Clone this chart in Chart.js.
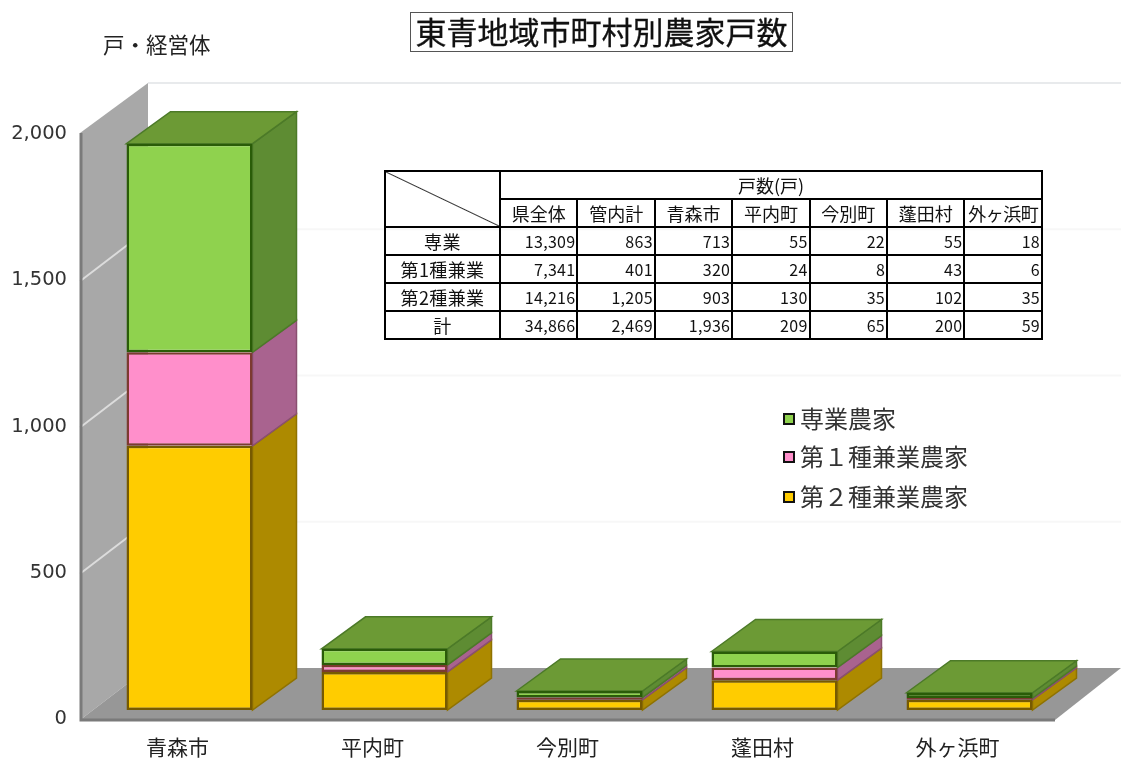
<!DOCTYPE html>
<html lang="ja">
<head>
<meta charset="utf-8">
<title>東青地域市町村別農家戸数</title>
<script src="https://cdn.jsdelivr.net/npm/chart.js@4"></script>
<style>
  html, body { margin: 0; padding: 0; background: #fff; }
  body { position: relative; width: 1121px; height: 758px; overflow: hidden; font-family: "Noto Sans CJK JP", sans-serif; color: #222; }
  #chart { position: absolute; left: 0; top: 0; }
  #title { position: absolute; left: 410px; top: 12px; width: 381px; height: 38px; border: 1px solid #555; background: #fff; text-align: center; font-size: 31px; line-height: 35px; white-space: nowrap; color: #111; -webkit-text-stroke: 0.3px #111; }
  #unit { position: absolute; left: 103px; top: 29px; font-size: 21.5px; line-height: 30px; color: #222; }
  #legend { position: absolute; left: 783px; top: 399px; }
  .legend-row { position: absolute; left: 0; height: 38px; width: 200px; white-space: nowrap; font-size: 24px; line-height: 38px; color: #333; }
  .legend-row i { position: absolute; left: 0; top: 14px; width: 8px; height: 8px; border: 2px solid #111; }
  .legend-row span { position: absolute; left: 17px; top: 0; }
  #summary { position: absolute; left: 384px; top: 170px; width: 659px; height: 169px; border-collapse: collapse; table-layout: fixed; background: transparent; font-size: 16px; color: #111; }
  #summary td, #summary th { border: 2px solid #000; padding: 0 1px; font-weight: 400; line-height: 1; overflow: hidden; white-space: nowrap; }
  #summary td { text-align: right; letter-spacing: 0.3px; }
  #summary th.row-head { font-size: 18px; letter-spacing: 0.4px; }
  #summary th.col-head { font-size: 18px; }
  #summary th.wide-head { letter-spacing: -0.5px; }
  #summary th.corner { background: linear-gradient(to top right, transparent calc(50% - 1px), #333 50%, transparent calc(50% + 1px)); }
</style>
</head>
<body>
<canvas id="chart" width="1121" height="758"></canvas>
<div id="title">東青地域市町村別農家戸数</div>
<div id="unit">戸・経営体</div>
<table id="summary"></table>
<div id="legend"></div>
<script>
  const categories = ["青森市", "平内町", "今別町", "蓬田村", "外ヶ浜町"];
  const senkyo = [713, 55, 22, 55, 18];
  const kengyo1 = [320, 24, 8, 43, 6];
  const kengyo2 = [903, 130, 35, 102, 35];
  const yTicks = [0, 500, 1000, 1500, 2000];

  const legendNames = ["専業農家", "第１種兼業農家", "第２種兼業農家"];

  const tableHeader = "戸数(戸)";
  const tableColumns = ["県全体", "管内計", "青森市", "平内町", "今別町", "蓬田村", "外ヶ浜町"];
  const tableRowNames = ["専業", "第1種兼業", "第2種兼業", "計"];
  const rowSenkyo = ["13,309", "863", "713", "55", "22", "55", "18"];
  const rowKengyo1 = ["7,341", "401", "320", "24", "8", "43", "6"];
  const rowKengyo2 = ["14,216", "1,205", "903", "130", "35", "102", "35"];
  const rowTotal = ["34,866", "2,469", "1,936", "209", "65", "200", "59"];

  const GREEN = { front: "#8fd24e", side: "#5e8c33", top: "#6c9a35", line: "#2a5c08", sideLine: "#4c7a28" };
  const PINK = { front: "#ff8fcb", side: "#a9638f", line: "#7c3a30", sideLine: "#8a4f70" };
  const YELLOW = { front: "#ffcc00", side: "#ad8a00", line: "#775a00", sideLine: "#8f7200" };

  // bars stand a little behind the front edge of the floor
  const BAR_DEPTH = { x: 44, y: -32 };
  const FLOOR_SHIFT = { x: -12, y: 10 };
  const WALL_DEPTH = { x: 68, y: -52 };

  const roomPlugin = {
    id: "room",
    beforeDraw(chart) {
      const ctx = chart.ctx;
      const yScale = chart.scales.y;
      const front = (v) => yScale.getPixelForValue(v) + FLOOR_SHIFT.y;
      const left = chart.chartArea.left + FLOOR_SHIFT.x;
      const right = chart.chartArea.right + FLOOR_SHIFT.x;
      const top = front(2000) - 2;
      const floor = front(0);

      ctx.save();
      ctx.fillStyle = "#fff";
      ctx.fillRect(0, 0, chart.width, chart.height);

      // back wall
      ctx.strokeStyle = "#f7f7f7";
      ctx.lineWidth = 2;
      yTicks.slice(1, -1).forEach((v) => {
        ctx.beginPath();
        ctx.moveTo(left + WALL_DEPTH.x, front(v) + WALL_DEPTH.y);
        ctx.lineTo(right + WALL_DEPTH.x, front(v) + WALL_DEPTH.y);
        ctx.stroke();
      });
      ctx.strokeStyle = "#e8eaec";
      ctx.beginPath();
      ctx.moveTo(left + WALL_DEPTH.x, top + WALL_DEPTH.y + 2);
      ctx.lineTo(right + WALL_DEPTH.x, top + WALL_DEPTH.y + 2);
      ctx.lineTo(right + WALL_DEPTH.x, floor + WALL_DEPTH.y);
      ctx.stroke();

      // left wall
      ctx.fillStyle = "#a8a8a8";
      ctx.beginPath();
      ctx.moveTo(left, top);
      ctx.lineTo(left + WALL_DEPTH.x, top + WALL_DEPTH.y + 2);
      ctx.lineTo(left + WALL_DEPTH.x, floor + WALL_DEPTH.y);
      ctx.lineTo(left, floor);
      ctx.closePath();
      ctx.fill();
      ctx.strokeStyle = "#dcdcdc";
      ctx.lineWidth = 2;
      yTicks.slice(1, -1).forEach((v) => {
        ctx.beginPath();
        ctx.moveTo(left, front(v));
        ctx.lineTo(left + WALL_DEPTH.x, front(v) + WALL_DEPTH.y);
        ctx.stroke();
      });

      // floor
      ctx.fillStyle = "#979797";
      ctx.beginPath();
      ctx.moveTo(left, floor);
      ctx.lineTo(left + WALL_DEPTH.x, floor + WALL_DEPTH.y);
      ctx.lineTo(right + WALL_DEPTH.x - 2, floor + WALL_DEPTH.y);
      ctx.lineTo(right, floor);
      ctx.closePath();
      ctx.fill();

      // darker edges at the front
      ctx.strokeStyle = "#7a7a7a";
      ctx.lineWidth = 3;
      ctx.beginPath();
      ctx.moveTo(left + 1, top);
      ctx.lineTo(left + 1, floor);
      ctx.lineTo(right, floor);
      ctx.stroke();
      ctx.restore();
    },
    beforeDatasetsDraw(chart) {
      const ctx = chart.ctx;
      ctx.save();
      ctx.lineWidth = 1.5;
      chart.data.datasets.forEach((ds, i) => {
        chart.getDatasetMeta(i).data.forEach((bar) => {
          const xr = bar.x + bar.width / 2;
          ctx.fillStyle = ds.sideColor;
          ctx.strokeStyle = ds.sideLine;
          ctx.beginPath();
          ctx.moveTo(xr, bar.y);
          ctx.lineTo(xr + BAR_DEPTH.x, bar.y + BAR_DEPTH.y);
          ctx.lineTo(xr + BAR_DEPTH.x, bar.base + BAR_DEPTH.y);
          ctx.lineTo(xr, bar.base);
          ctx.closePath();
          ctx.fill();
          ctx.stroke();
        });
      });

      // top face of each stack
      const last = chart.data.datasets.length - 1;
      chart.getDatasetMeta(last).data.forEach((bar) => {
        const xl = bar.x - bar.width / 2;
        const xr = bar.x + bar.width / 2;
        ctx.fillStyle = GREEN.top;
        ctx.strokeStyle = GREEN.sideLine;
        ctx.beginPath();
        ctx.moveTo(xl, bar.y);
        ctx.lineTo(xl + BAR_DEPTH.x, bar.y + BAR_DEPTH.y);
        ctx.lineTo(xr + BAR_DEPTH.x, bar.y + BAR_DEPTH.y);
        ctx.lineTo(xr, bar.y);
        ctx.closePath();
        ctx.fill();
        ctx.stroke();
      });
      ctx.restore();
    },
  };

  function barSeries(label, data, colors) {
    return {
      label,
      data,
      backgroundColor: colors.front,
      borderColor: colors.line,
      sideColor: colors.side,
      sideLine: colors.sideLine,
      borderWidth: 2.5,
      borderSkipped: false,
    };
  }

  new Chart(document.getElementById("chart"), {
    type: "bar",
    data: {
      labels: categories,
      datasets: [
        barSeries(legendNames[2], kengyo2, YELLOW),
        barSeries(legendNames[1], kengyo1, PINK),
        barSeries(legendNames[0], senkyo, GREEN),
      ],
    },
    options: {
      responsive: false,
      animation: false,
      devicePixelRatio: 1,
      layout: { padding: { top: 125, right: 54, left: 0, bottom: 0 } },
      plugins: { legend: { display: false }, tooltip: { enabled: false }, title: { display: false } },
      datasets: { bar: { barPercentage: 126 / 195, categoryPercentage: 1 } },
      scales: {
        x: {
          stacked: true,
          grid: { display: false, drawTicks: false },
          border: { display: false },
          afterFit(axis) { axis.height = 48; },
          ticks: {
            color: "#222",
            padding: 24,
            labelOffset: FLOOR_SHIFT.x,
            maxRotation: 0,
            autoSkip: false,
            font: { family: "'Noto Sans CJK JP'", size: 21 },
          },
        },
        y: {
          stacked: true,
          min: 0,
          max: 2000,
          afterFit(axis) { axis.width = 92; },
          afterBuildTicks(axis) { axis.ticks = yTicks.map((value) => ({ value })); },
          grid: { display: false, drawTicks: false },
          border: { display: false },
          ticks: {
            color: "#333",
            padding: 25,
            labelOffset: 9,
            font: { family: "'DejaVu Sans'", size: 19.5 },
            callback: (v) => v.toLocaleString("en-US"),
          },
        },
      },
    },
    plugins: [roomPlugin],
  });

  // legend sits on the back wall, top series first
  const legendEl = document.getElementById("legend");
  [GREEN, PINK, YELLOW].forEach((colors, i) => {
    const row = document.createElement("div");
    row.className = "legend-row";
    row.style.top = [0, 38, 78][i] + "px";
    row.innerHTML = `<i style="background:${colors.front}"></i><span>${legendNames[i]}</span>`;
    legendEl.appendChild(row);
  });

  const rows = [rowSenkyo, rowKengyo1, rowKengyo2, rowTotal];
  const colWidth = 77.4;
  let html = `<colgroup><col style="width:115px">` + tableColumns.map(() => `<col style="width:${colWidth}px">`).join("") + `</colgroup>`;
  html += `<tr style="height:28px"><th class="corner" rowspan="2"></th><th class="col-head" colspan="${tableColumns.length}">${tableHeader}</th></tr>`;
  html += `<tr style="height:28px">` + tableColumns.map((c) => `<th class="col-head${c.length > 3 ? " wide-head" : ""}">${c}</th>`).join("") + `</tr>`;
  rows.forEach((row, i) => {
    html += `<tr style="height:28px"><th class="row-head">${tableRowNames[i]}</th>` + row.map((v) => `<td>${v}</td>`).join("") + `</tr>`;
  });
  document.getElementById("summary").innerHTML = html;
</script>
</body>
</html>
